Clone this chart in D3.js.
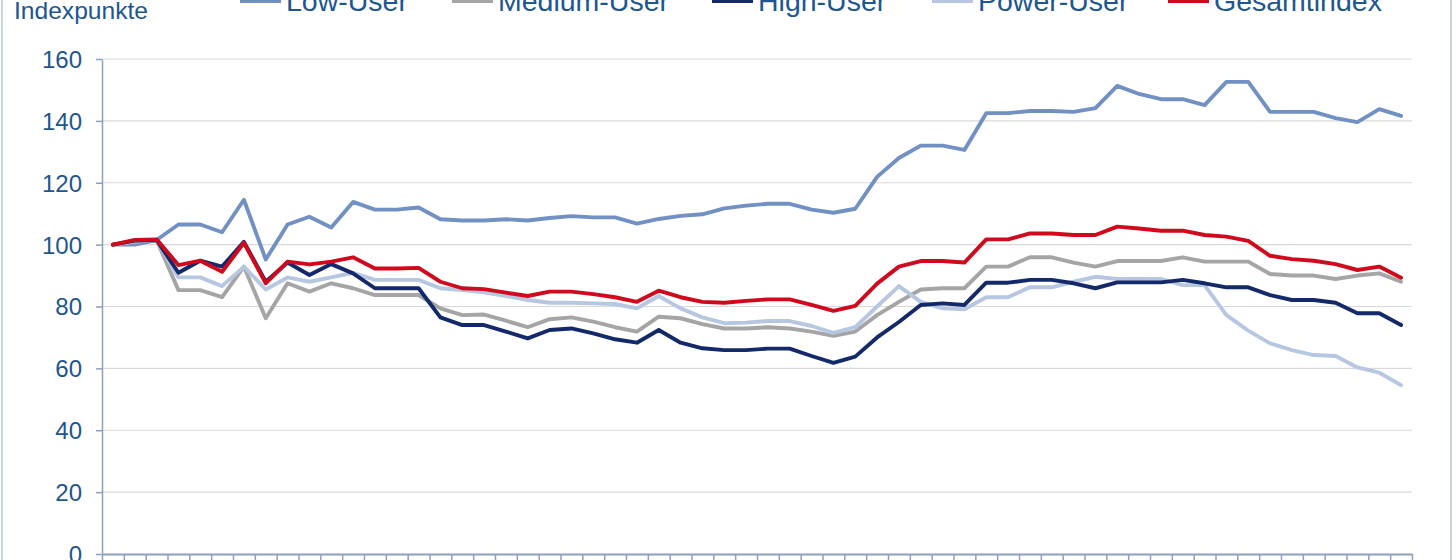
<!DOCTYPE html>
<html>
<head>
<meta charset="utf-8">
<script src="https://cdn.jsdelivr.net/npm/d3@7"></script>
<style>
  html, body { margin: 0; padding: 0; background: #fff; }
  svg { display: block; }
  text { font-family: "Liberation Sans", Arial, sans-serif; }
</style>
</head>
<body>
<svg id="chart" width="1456" height="560"></svg>
<script>
// ---- data ----
const categories = d3.range(1, 61);
const seriesNames = ["Low-User", "Medium-User", "High-User", "Power-User", "Gesamtindex"];
const yTicks = [0, 20, 40, 60, 80, 100, 120, 140, 160];

const lowUser = [100, 100, 101.5, 106.5, 106.5, 104, 114.5, 95.2, 106.5, 109,
  105.5, 113.8, 111.3, 111.3, 112, 108.2, 107.8, 107.8, 108.2, 107.8,
  108.6, 109.2, 108.8, 108.8, 106.8, 108.3, 109.3, 109.8, 111.7, 112.6,
  113.2, 113.2, 111.3, 110.3, 111.6, 121.9, 128, 132, 132, 130.6,
  142.5, 142.5, 143.2, 143.2, 142.9, 144.1, 151.3, 148.7, 147, 147,
  145.1, 152.6, 152.6, 142.9, 142.9, 142.9, 140.9, 139.6, 143.8, 141.6];

const mediumUser = [100, 101, 101.5, 85.3, 85.3, 83, 92.9, 76.2, 87.5, 84.8,
  87.5, 85.9, 83.7, 83.7, 83.7, 79.4, 77.2, 77.4, 75.4, 73.3,
  75.9, 76.5, 75.1, 73.3, 71.9, 76.7, 76.2, 74.3, 72.9, 72.9,
  73.3, 72.9, 71.9, 70.5, 71.9, 77.2, 81.5, 85.5, 85.9, 85.9,
  92.9, 92.9, 95.9, 95.9, 94.2, 92.9, 94.7, 94.7, 94.7, 95.9,
  94.5, 94.5, 94.5, 90.5, 90, 90, 88.9, 90, 90.7, 88];

const highUser = [100, 101.3, 101.5, 90.9, 94.8, 92.9, 100.9, 88, 94.2, 90.2,
  93.7, 90.7, 85.9, 85.9, 85.9, 76.5, 74, 74, 71.9, 69.7,
  72.4, 72.9, 71.3, 69.4, 68.3, 72.4, 68.3, 66.5, 65.9, 65.9,
  66.4, 66.4, 64, 61.8, 63.8, 70, 75, 80.5, 81, 80.5,
  87.7, 87.7, 88.6, 88.6, 87.5, 85.9, 87.8, 87.8, 87.8, 88.6,
  87.5, 86.2, 86.2, 83.7, 82.1, 82.1, 81.2, 77.8, 77.8, 74];

const powerUser = [100, 101, 101.5, 89.4, 89.4, 86.6, 92.9, 85.5, 89.4, 88,
  89.4, 90.9, 88.6, 88.6, 88.6, 85.9, 85.3, 84.6, 83.4, 82.1,
  81.2, 81.2, 81, 80.8, 79.4, 83.4, 79.4, 76.5, 74.6, 74.8,
  75.3, 75.3, 73.7, 71.5, 73.3, 80, 86.6, 81.5, 79.4, 79.1,
  83, 83, 86.2, 86.2, 88, 89.6, 88.9, 88.9, 88.9, 86.9,
  86.9, 77.2, 72.2, 68.1, 65.9, 64.3, 64, 60.3, 58.6, 54.6];

const gesamtindex = [100, 101.5, 101.7, 93.4, 94.8, 91.2, 100.6, 87.5, 94.5, 93.6,
  94.5, 95.9, 92.3, 92.3, 92.5, 88, 85.9, 85.6, 84.5, 83.4,
  84.8, 84.8, 84, 83, 81.5, 85.1, 83, 81.5, 81.2, 81.8,
  82.3, 82.3, 80.5, 78.6, 80.2, 87.4, 92.9, 94.7, 94.7, 94.2,
  101.7, 101.7, 103.6, 103.6, 103.1, 103.1, 105.8, 105.2, 104.5, 104.5,
  103.1, 102.6, 101.2, 96.4, 95.3, 94.8, 93.7, 91.8, 92.9, 89.3];

const colors = ["#7190c4", "#a5a5a5", "#13296a", "#b7c7e2", "#d0091c"];
const series = [lowUser, mediumUser, highUser, powerUser, gesamtindex];
const drawOrder = [0, 1, 3, 2, 4];

// ---- layout ----
const svg = d3.select("#chart");
const mLeft = 102, mRight = 1412, mTop = 59, mBottom = 554;
const textColor = "#1d5690";
const axisColor = "#8e9ec2";

// frame
svg.append("line").attr("x1", 2).attr("x2", 2).attr("y1", 0).attr("y2", 560)
  .attr("stroke", "#b9c5da").attr("stroke-width", 1.5);
svg.append("line").attr("x1", 1451).attr("x2", 1451).attr("y1", 0).attr("y2", 560)
  .attr("stroke", "#b9c5da").attr("stroke-width", 1.5);

const x = d3.scaleBand().domain(categories).range([mLeft, mRight]).padding(0);
const xb = d3.scaleLinear().domain([0, categories.length]).range([mLeft, mRight]);
const y = d3.scaleLinear().domain([0, 160]).range([mBottom, mTop]);

// gridlines
svg.append("g").selectAll("line").data(yTicks.filter(d => d > 0)).join("line")
  .attr("x1", mLeft).attr("x2", mRight)
  .attr("y1", d => y(d)).attr("y2", d => y(d))
  .attr("stroke", "#d9d9d9").attr("stroke-width", 1.2);

// y axis
const yAxis = svg.append("g").attr("transform", `translate(${mLeft},0)`)
  .call(d3.axisLeft(y).tickValues(yTicks).tickSize(6).tickPadding(14).tickSizeOuter(0));
yAxis.select(".domain").attr("stroke", axisColor).attr("stroke-width", 1.5);
yAxis.selectAll(".tick line").attr("stroke", axisColor).attr("stroke-width", 1.5);
yAxis.selectAll(".tick text").attr("fill", textColor)
  .style("font-size", "24px").style("font-family", "'Liberation Sans', Arial, sans-serif")
  .attr("dy", "0.35em");

// x axis
const xAxis = svg.append("g").attr("transform", `translate(0,${mBottom})`)
  .call(d3.axisBottom(xb).tickValues(d3.range(categories.length + 1)).tickSize(7).tickFormat("").tickSizeOuter(0));
xAxis.select(".domain").attr("stroke", axisColor).attr("stroke-width", 2);
xAxis.selectAll(".tick line").attr("stroke", axisColor).attr("stroke-width", 1.5);

// lines
const line = d3.line()
  .x((d, i) => x(categories[i]) + x.bandwidth() / 2)
  .y(d => y(d));

drawOrder.forEach(k => {
  svg.append("path").datum(series[k])
    .attr("d", line)
    .attr("fill", "none")
    .attr("stroke", colors[k])
    .attr("stroke-width", 3.9)
    .attr("stroke-linejoin", "round")
    .attr("stroke-linecap", "round");
});

// y axis title
svg.append("text").attr("x", 14).attr("y", 19)
  .attr("fill", textColor).style("font-size", "24px")
  .attr("textLength", 134).attr("lengthAdjust", "spacingAndGlyphs")
  .text("Indexpunkte");

// legend (partially cut off at top)
const legendSwatchX = [240, 452, 712, 932, 1168];
const legend = svg.append("g");
seriesNames.forEach((name, k) => {
  legend.append("line")
    .attr("x1", legendSwatchX[k]).attr("x2", legendSwatchX[k] + 41)
    .attr("y1", 0.5).attr("y2", 0.5)
    .attr("stroke", colors[k]).attr("stroke-width", 5);
  legend.append("text")
    .attr("x", legendSwatchX[k] + 46).attr("y", 10.5)
    .attr("fill", textColor).style("font-size", "28.5px")
    .text(name);
});
</script>
</body>
</html>
